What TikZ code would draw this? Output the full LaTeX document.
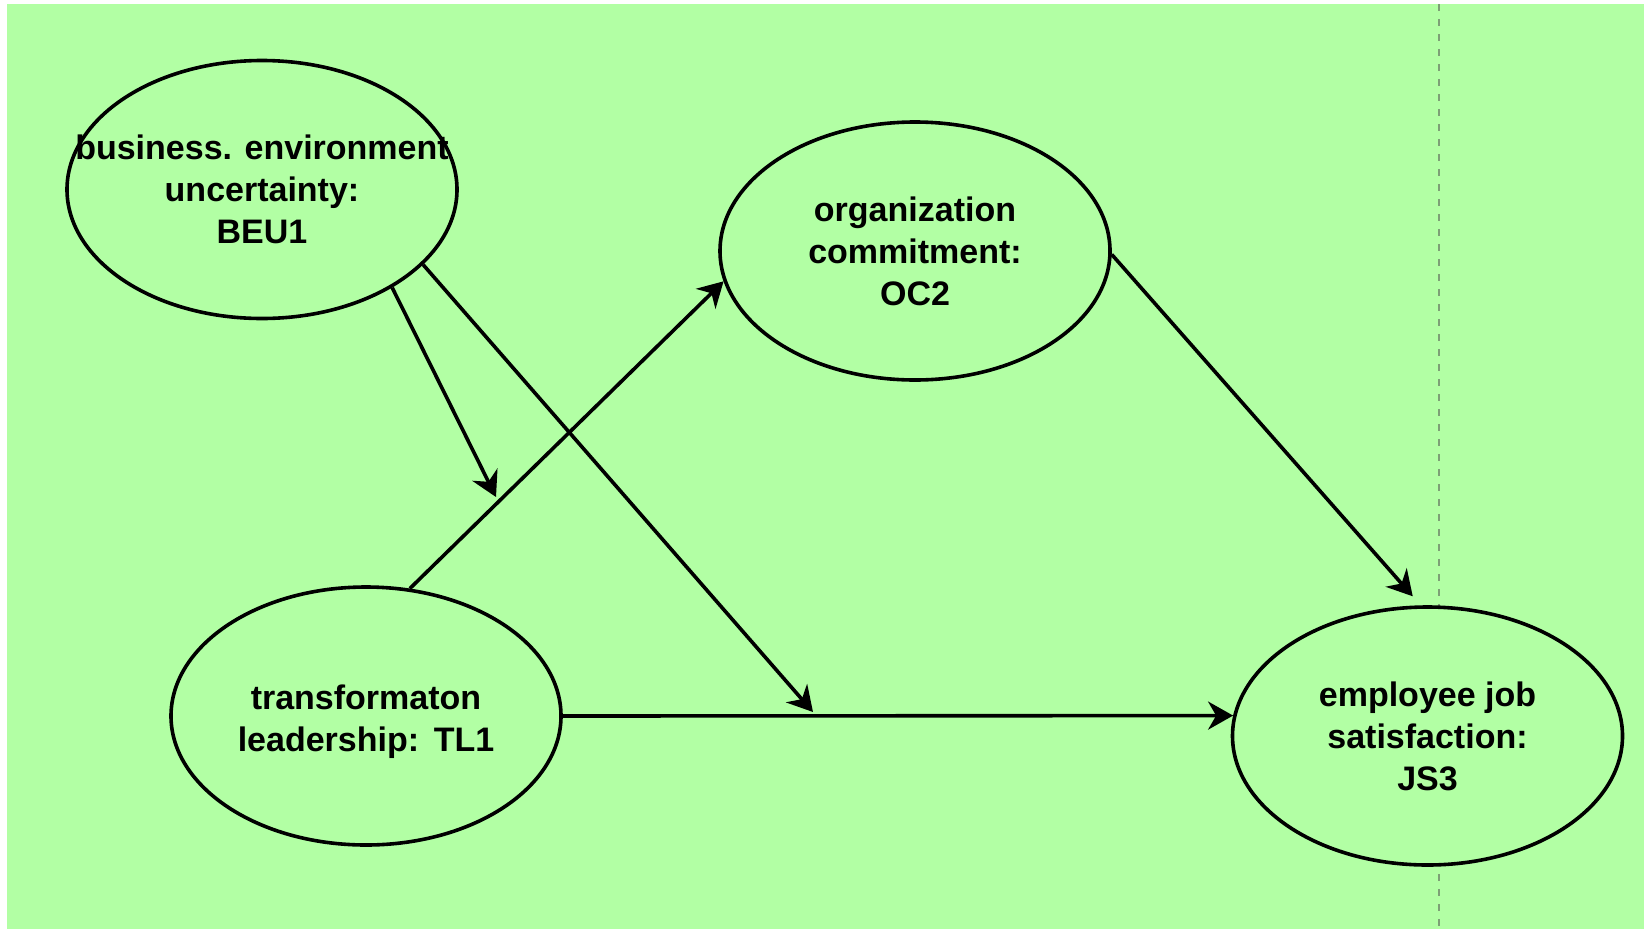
\documentclass[tikz,border=0pt]{standalone}
\usepackage{fontspec}
\setmainfont{Liberation Sans}
\usetikzlibrary{shapes.geometric,arrows.meta,calc}

\definecolor{canvas}{RGB}{178,255,164}
\definecolor{guide}{RGB}{125,160,118}

\tikzset{
  oval/.style={ellipse, draw=black, line width=3.6pt, fill=canvas,
    minimum width=390pt, minimum height=258pt, inner sep=0pt},
  label text/.style={align=center, inner sep=0pt,
    font=\fontsize{34}{42}\selectfont\bfseries},
  arr/.style={line width=3.6pt, draw=black,
    -{Stealth[length=25pt, width=28pt, inset=8pt]}},
  guideline/.style={draw=guide, line width=1.5pt, dash pattern=on 7pt off 8pt}
}

\begin{document}
\begin{tikzpicture}[x=1pt, y=-1pt]
  \useasboundingbox (0,0) rectangle (1644,930);
  % page background
  \fill[canvas] (7,4) rectangle (1644,929);
  % page break guide
  \coordinate (gtop) at (1439,4);
  \coordinate (gbot) at (1439,929);
  \draw[guideline] (gtop) -- (gbot);

  % constructs
  \node[oval] (beu) at (262,189.5) {};
  \node[label text] (beu-t) at (beu) {business. environment\\uncertainty:\\BEU1};

  \node[oval] (oc) at (915,251) {};
  \node[label text] (oc-t) at (oc) {organization\\commitment:\\OC2};

  \node[oval] (tl) at (366,716) {};
  \node[label text] (tl-t) at ($(tl)+(0,6)$) {transformaton\\leadership:\hspace{2pt} TL1};

  \node[oval] (js) at (1427.5,736) {};
  \node[label text] (js-t) at (js) {employee job\\satisfaction:\\JS3};

  % free ends of the moderating paths
  \coordinate (m1) at (496,497);
  \coordinate (m2) at (813,712);

  % paths
  \draw[arr] (beu.-37.4) -- (m1);
  \draw[arr] (beu.-25.2) -- (m2);
  \draw[arr] (tl.71.6) -- (oc.-171.5);
  \draw[arr, shorten >=12pt] (oc.-1) -- (js.93.8);
  \draw[arr] (tl.east) -- (js.174);
\end{tikzpicture}
\end{document}
